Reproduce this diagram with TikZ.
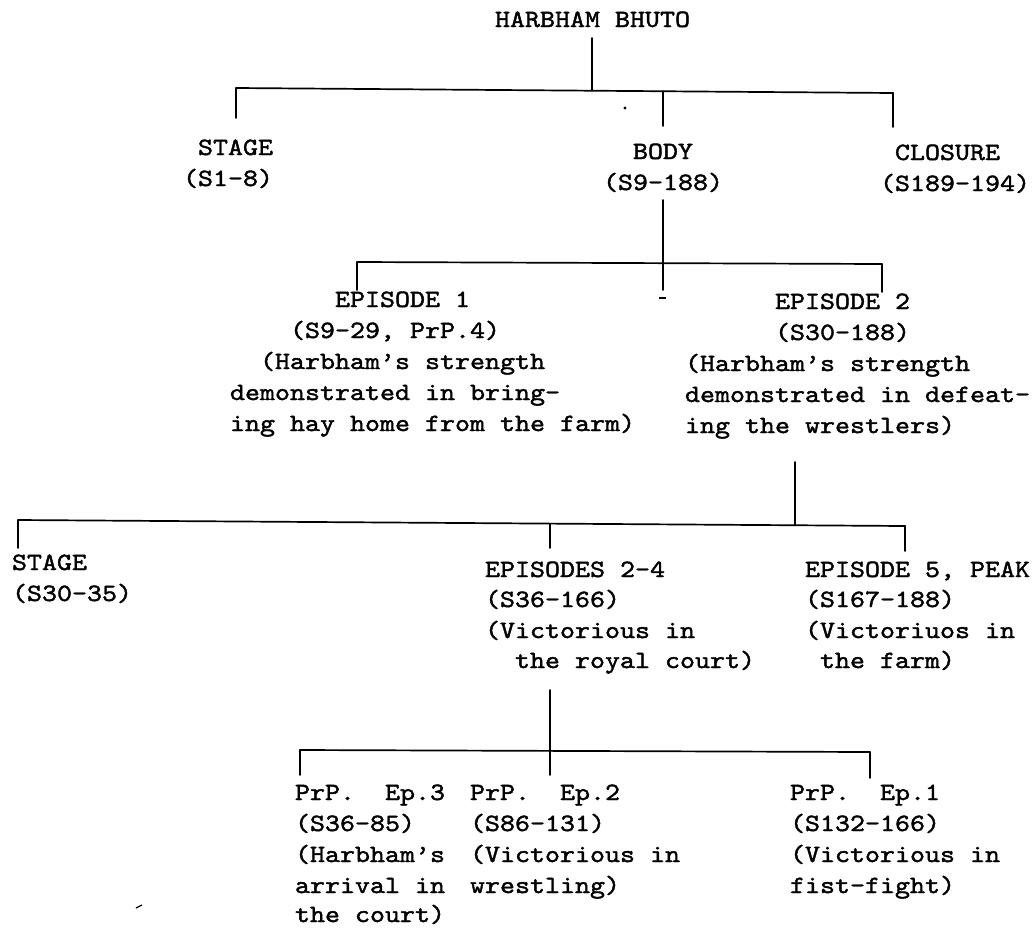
\documentclass[tikz,border=0pt]{standalone}
\usepackage{fontspec}
\newfontfamily\tw{lmmono10-regular}[Extension=.otf, FakeStretch=1.15, FakeBold=1.6]
\tikzset{
  tx/.style={font=\tw\fontsize{24.85}{31}\selectfont\frenchspacing, anchor=base west, inner sep=0pt, outer sep=0pt},
  ln/.style={line width=1.7pt, line cap=round},
  speck/.style={fill=black, draw=none}
}
\begin{document}
\begin{tikzpicture}[x=1pt,y=-1pt]
\fill[white] (0,0) rectangle (1035,929);
\useasboundingbox (0,0) rectangle (1035,929);

% ---------- texts ----------
\node[tx] (title) at (495,27) {HARBHAM BHUTO};

\node[tx] (s1a) at (198,155) {STAGE};
\node[tx] (s1b) at (183,186) {(S1-8)};
\node[tx] (b1a) at (633,159) {BODY};
\node[tx] (b1b) at (603,190) {(S9-188)};
\node[tx] (c1a) at (895,160) {CLOSURE};
\node[tx] (c1b) at (880,191) {(S189-194)};

\node[tx] (e1a) at (335,307) {EPISODE 1};
\node[tx] (e1b) at (290,338) {(S9-29, PrP.4)};
\node[tx] (e1c) at (260,369) {(Harbham’s strength};
\node[tx] (e1d) at (230,400) {demonstrated in bring-};
\node[tx] (e1e) at (230,431) {ing hay home from the farm)};

\node[tx] (e2a) at (775,309) {EPISODE 2};
\node[tx] (e2b) at (775,340) {(S30-188)};
\node[tx] (e2c) at (685,371) {(Harbham’s strength};
\node[tx] (e2d) at (685,402) {demonstrated in defeat-};
\node[tx] (e2e) at (685,433) {ing the wrestlers)};

\node[tx] (t3a) at (12,570) {STAGE};
\node[tx] (t3b) at (12,601) {(S30-35)};
\node[tx] (m3a) at (485,577) {EPISODES 2-4};
\node[tx] (m3b) at (485,607) {(S36-166)};
\node[tx] (m3c) at (485,638) {(Victorious in};
\node[tx] (m3d) at (515,668) {the royal court)};
\node[tx] (p3a) at (805,577) {EPISODE 5, PEAK};
\node[tx] (p3b) at (805,607) {(S167-188)};
\node[tx] (p3c) at (805,638) {(Victoriuos in};
\node[tx] (p3d) at (820,668) {the farm)};

\node[tx] (q3a) at (295,800) {PrP.\ \ Ep.3};
\node[tx] (q3b) at (295,831) {(S36-85)};
\node[tx] (q3c) at (295,862) {(Harbham’s};
\node[tx] (q3d) at (295,893) {arrival in};
\node[tx] (q3e) at (295,922) {the court)};
\node[tx] (q2a) at (470,800) {PrP.\ \ Ep.2};
\node[tx] (q2b) at (470,831) {(S86-131)};
\node[tx] (q2c) at (470,862) {(Victorious in};
\node[tx] (q2d) at (470,893) {wrestling)};
\node[tx] (q1a) at (790,800) {PrP.\ \ Ep.1};
\node[tx] (q1b) at (790,831) {(S132-166)};
\node[tx] (q1c) at (790,862) {(Victorious in};
\node[tx] (q1d) at (790,893) {fist-fight)};

% ---------- junction coordinates ----------
\coordinate (t0) at (592,38);
\coordinate (h1L) at (236,88);  \coordinate (h1T) at (592,90.8);
\coordinate (h1B) at (663,91.3); \coordinate (h1R) at (893,93);
\coordinate (d1L) at (236,118); \coordinate (d1B) at (663,126); \coordinate (d1R) at (893,127);

\coordinate (b0) at (663,200); \coordinate (b2) at (663,290);
\coordinate (h2L) at (357,262); \coordinate (h2R) at (882,264);
\coordinate (d2L) at (357,290); \coordinate (d2R) at (882,292);

\coordinate (e0) at (795,462); \coordinate (h3E) at (795,525.3);
\coordinate (h3L) at (18,520); \coordinate (h3R) at (905,526);
\coordinate (h3M) at (550,523.6);
\coordinate (d3L) at (18,548); \coordinate (d3M) at (550,548); \coordinate (d3R) at (905,551);

\coordinate (m0) at (550,690); \coordinate (m2) at (550,775);
\coordinate (h4L) at (300,750); \coordinate (h4R) at (870,752);
\coordinate (d4L) at (300,775); \coordinate (d4R) at (870,778);

% ---------- connectors ----------
\draw[ln] (t0) -- (h1T);
\draw[ln] (h1L) -- (h1R);
\draw[ln] (h1L) -- (d1L);
\draw[ln] (h1B) -- (d1B);
\draw[ln] (h1R) -- (d1R);

\draw[ln] (b0) -- (b2);
\draw[ln] (h2L) -- (h2R);
\draw[ln] (h2L) -- (d2L);
\draw[ln] (h2R) -- (d2R);

\draw[ln] (e0) -- (h3E);
\draw[ln] (h3L) -- (h3R);
\draw[ln] (h3L) -- (d3L);
\draw[ln] (h3M) -- (d3M);
\draw[ln] (h3R) -- (d3R);

\draw[ln] (m0) -- (m2);
\draw[ln] (h4L) -- (h4R);
\draw[ln] (h4L) -- (d4L);
\draw[ln] (h4R) -- (d4R);

% ---------- specks ----------
\fill[speck] (625,108) circle (1.6pt);
\draw[line width=1.4pt] (659,298) -- (666,298);
\draw[line width=1.2pt] (136,908) -- (142,905);
\end{tikzpicture}
\end{document}
